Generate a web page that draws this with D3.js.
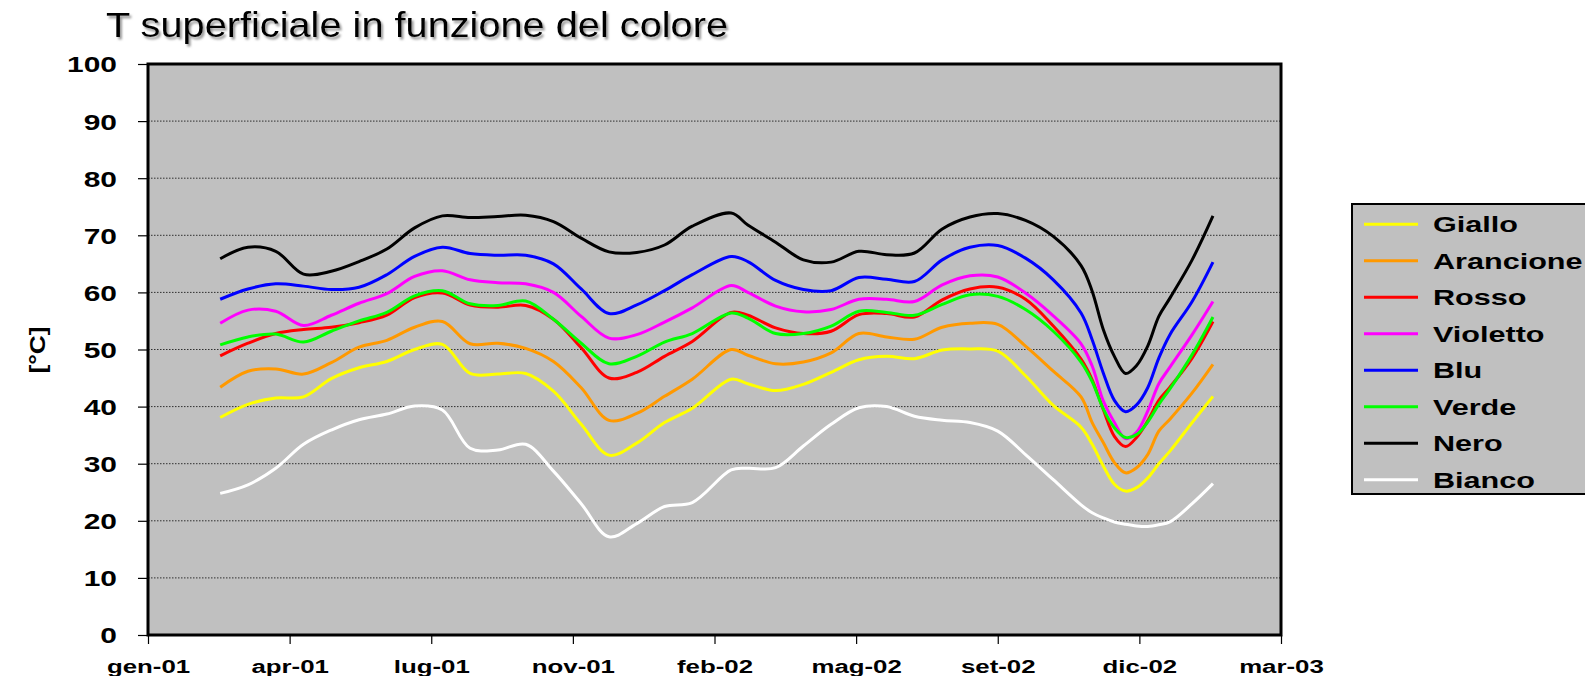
<!DOCTYPE html>
<html>
<head>
<meta charset="utf-8">
<script src="https://cdn.jsdelivr.net/npm/d3@7"></script>
<style>
  body { margin: 0; background: #ffffff; overflow: hidden; }
  svg { display: block; }
</style>
</head>
<body>
<svg id="chart" width="1585" height="676"></svg>
<script>
// Sampling dates of the surface-temperature series
const dates = [
  "2001-02-22","2001-03-14","2001-04-03","2001-04-23","2001-05-13","2001-06-02","2001-06-22","2001-07-12",
  "2001-08-01","2001-08-21","2001-09-10","2001-09-30","2001-10-20","2001-11-09","2001-11-29","2001-12-19",
  "2002-01-08","2002-01-28","2002-02-25","2002-03-09","2002-03-29","2002-04-18","2002-05-08","2002-05-28",
  "2002-06-17","2002-07-07","2002-07-27","2002-08-16","2002-09-05","2002-09-25","2002-10-15","2002-11-04",
  "2002-11-12","2002-11-20","2002-11-28","2002-12-06","2002-12-14","2002-12-22","2002-12-30","2003-01-07",
  "2003-01-23","2003-02-07"
];

// Surface temperature [°C] for each colour
const giallo = [38.1, 40.4, 41.5, 41.7, 44.9, 46.8, 47.9, 50.0, 50.9, 45.8, 45.7, 45.8, 42.7, 36.9, 31.5, 33.6,
  37.2, 39.7, 44.8, 44.0, 42.8, 43.9, 46.0, 48.2, 48.8, 48.4, 49.9, 50.1, 49.7, 45.4, 40.2, 36.4,
  33.4, 29.6, 26.4, 25.2, 25.8, 27.5, 30.0, 32.2, 37.2, 41.8];
const arancione = [43.4, 46.2, 46.6, 45.7, 47.7, 50.4, 51.6, 53.9, 54.9, 51.0, 51.1, 50.2, 47.9, 43.3, 37.6, 38.8,
  41.8, 44.8, 50.0, 49.0, 47.5, 47.8, 49.4, 52.8, 52.2, 51.8, 53.9, 54.6, 54.4, 50.6, 46.2, 41.7,
  37.2, 33.7, 30.2, 28.4, 29.3, 31.6, 35.7, 37.8, 42.4, 47.4];
const rosso = [48.9, 51.1, 52.8, 53.5, 53.9, 54.7, 56.0, 59.1, 59.9, 57.8, 57.4, 57.7, 55.3, 50.3, 45.0, 46.0,
  48.8, 51.4, 56.5, 56.0, 53.8, 52.8, 53.2, 56.1, 56.3, 55.7, 58.7, 60.6, 60.9, 58.8, 54.1, 48.3,
  44.7, 39.5, 34.8, 33.0, 34.6, 37.5, 41.1, 43.4, 48.5, 54.9];
const violetto = [54.6, 56.9, 56.7, 54.2, 56.0, 58.1, 59.8, 62.8, 63.8, 62.2, 61.7, 61.5, 60.0, 55.8, 52.0, 52.6,
  54.8, 57.3, 61.2, 60.0, 57.6, 56.6, 57.0, 58.8, 58.8, 58.4, 61.3, 62.9, 62.7, 59.9, 55.9, 51.0,
  47.1, 41.0, 37.2, 34.4, 35.5, 39.2, 44.0, 46.9, 52.6, 58.4];
const blu = [58.8, 60.6, 61.5, 61.1, 60.5, 60.9, 63.1, 66.3, 67.9, 66.8, 66.5, 66.5, 65.0, 60.6, 56.3, 57.8,
  60.3, 63.1, 66.3, 65.4, 62.1, 60.5, 60.3, 62.6, 62.3, 61.9, 65.7, 67.9, 68.2, 66.0, 62.2, 56.4,
  51.7, 45.9, 41.1, 39.1, 40.3, 43.3, 48.5, 52.6, 58.4, 65.3];
const verde = [50.8, 52.2, 52.7, 51.3, 53.2, 55.0, 56.5, 59.4, 60.3, 58.0, 57.7, 58.5, 55.3, 51.1, 47.5, 48.8,
  51.3, 52.8, 56.4, 55.5, 52.8, 52.8, 54.1, 56.7, 56.5, 56.0, 57.9, 59.6, 59.3, 57.0, 53.2, 47.8,
  44.4, 39.6, 36.3, 34.6, 35.1, 37.3, 40.4, 43.1, 49.1, 55.7];
const nero = [65.9, 67.9, 67.2, 63.2, 63.7, 65.4, 67.6, 71.3, 73.4, 73.1, 73.3, 73.5, 72.4, 69.5, 67.1, 67.0,
  68.3, 71.6, 73.9, 71.8, 68.8, 65.7, 65.3, 67.2, 66.6, 66.9, 71.1, 73.2, 73.8, 72.6, 69.8, 64.7,
  60.2, 53.5, 48.8, 45.8, 47.2, 50.6, 55.8, 59.0, 65.7, 73.4];
const bianco = [24.8, 26.3, 29.2, 33.4, 35.9, 37.7, 38.7, 40.1, 39.4, 32.7, 32.4, 33.4, 28.7, 23.0, 17.2, 19.5,
  22.5, 23.2, 28.9, 29.2, 29.3, 33.1, 36.9, 39.8, 40.0, 38.3, 37.6, 37.2, 35.7, 31.6, 27.2, 22.8,
  21.4, 20.5, 19.8, 19.4, 19.1, 19.0, 19.3, 19.8, 23.0, 26.5];

const seriesNames = ["Giallo", "Arancione", "Rosso", "Violetto", "Blu", "Verde", "Nero", "Bianco"];
const seriesValues = [giallo, arancione, rosso, violetto, blu, verde, nero, bianco];
const seriesColors = ["#ffff00", "#ff9900", "#ff0000", "#ff00ff", "#0000ff", "#00ff00", "#000000", "#ffffff"];

// Axis labels
const xTickLabels = ["gen-01", "apr-01", "lug-01", "nov-01", "feb-02", "mag-02", "set-02", "dic-02", "mar-03"];
const yTickValues = [0, 10, 20, 30, 40, 50, 60, 70, 80, 90, 100];
const xStart = "2001-01-01";
const xTickStepDays = 102;

// ---- layout ----
const svg = d3.select("#chart");
const plot = { left: 148, right: 1281, top: 64, bottom: 635 };
const textStretch = 1.36;   // the chart text is drawn horizontally widened
const font = "'Liberation Sans', Arial, sans-serif";

const parse = d3.utcParse("%Y-%m-%d");
const t0 = parse(xStart);
const tickDates = xTickLabels.map((_, i) => d3.utcDay.offset(t0, i * xTickStepDays));

const x = d3.scaleUtc()
  .domain([tickDates[0], tickDates[tickDates.length - 1]])
  .range([plot.left, plot.right]);
const y = d3.scaleLinear().domain([0, 100]).range([plot.bottom, plot.top]);

// title with soft shadow
const defs = svg.append("defs");
const shadow = defs.append("filter").attr("id", "titleShadow")
  .attr("x", "-5%").attr("y", "-30%").attr("width", "110%").attr("height", "160%");
shadow.append("feDropShadow")
  .attr("dx", 2).attr("dy", 2.5).attr("stdDeviation", 1.3)
  .attr("flood-color", "#777").attr("flood-opacity", 0.75);

svg.append("text")
  .attr("x", 106).attr("y", 37)
  .attr("font-family", font).attr("font-size", 35)
  .attr("textLength", 622).attr("lengthAdjust", "spacingAndGlyphs")
  .attr("fill", "#000").attr("filter", "url(#titleShadow)")
  .text("T superficiale in funzione del colore");

// plot background
svg.append("rect")
  .attr("x", plot.left).attr("y", plot.top)
  .attr("width", plot.right - plot.left).attr("height", plot.bottom - plot.top)
  .attr("fill", "#c0c0c0");

// horizontal gridlines
svg.append("g").selectAll("line")
  .data(yTickValues.filter(v => v > 0 && v < 100))
  .join("line")
  .attr("x1", plot.left).attr("x2", plot.right)
  .attr("y1", d => y(d)).attr("y2", d => y(d))
  .attr("stroke", "#303030").attr("stroke-width", 1)
  .attr("stroke-dasharray", "1.5,1.5");

// series lines
const pts = dates.map(parse);
const line = d3.line()
  .x(d => x(d.date))
  .y(d => y(d.v))
  .curve(d3.curveCatmullRom.alpha(0.5));

svg.append("g").selectAll("path")
  .data(seriesValues.map((vals, i) => ({
    name: seriesNames[i],
    color: seriesColors[i],
    points: vals.map((v, j) => ({ date: pts[j], v }))
  })))
  .join("path")
  .attr("d", d => line(d.points))
  .attr("fill", "none")
  .attr("stroke", d => d.color)
  .attr("stroke-width", 3)
  .attr("stroke-linejoin", "round")
  .attr("stroke-linecap", "butt");

// frame
svg.append("rect")
  .attr("x", plot.left).attr("y", plot.top)
  .attr("width", plot.right - plot.left).attr("height", plot.bottom - plot.top)
  .attr("fill", "none").attr("stroke", "#000").attr("stroke-width", 3);

// y axis
const yAxis = svg.append("g")
  .attr("transform", `translate(${plot.left},0)`)
  .call(d3.axisLeft(y).tickValues(yTickValues).tickSize(10).tickSizeOuter(0));
yAxis.select(".domain").remove();
yAxis.selectAll(".tick line").attr("stroke", "#000").attr("stroke-width", 1.2);
yAxis.selectAll(".tick text")
  .attr("x", 0).attr("dy", "0.36em")
  .attr("transform", `translate(-31,0) scale(${textStretch},1)`)
  .attr("font-family", font).attr("font-size", 22).attr("font-weight", "bold")
  .attr("fill", "#000");

// x axis
const xAxis = svg.append("g")
  .attr("transform", `translate(0,${plot.bottom})`)
  .call(d3.axisBottom(x).tickValues(tickDates)
    .tickFormat((d, i) => xTickLabels[i]).tickSize(9).tickSizeOuter(0));
xAxis.select(".domain").remove();
xAxis.selectAll(".tick line").attr("stroke", "#000").attr("stroke-width", 1.2);
xAxis.selectAll(".tick text")
  .attr("y", 0).attr("dy", 0)
  .attr("transform", `translate(0,38) scale(${textStretch},1)`)
  .attr("font-family", font).attr("font-size", 19).attr("font-weight", "bold")
  .attr("fill", "#000");

// y axis title
svg.append("text")
  .attr("transform", "translate(45,350) rotate(-90) scale(1.2,1)")
  .attr("text-anchor", "middle")
  .attr("font-family", font).attr("font-size", 22).attr("font-weight", "bold")
  .attr("fill", "#000")
  .text("[°C]");

// legend
const legend = { left: 1352, top: 204, height: 290, rowTop: 224.3, rowStep: 36.5 };
svg.append("rect")
  .attr("x", legend.left).attr("y", legend.top)
  .attr("width", 300).attr("height", legend.height)
  .attr("fill", "#c0c0c0").attr("stroke", "#000").attr("stroke-width", 2);

const rows = svg.append("g").selectAll("g")
  .data(seriesNames.map((n, i) => ({ name: n, color: seriesColors[i], i })))
  .join("g")
  .attr("transform", d => `translate(0,${legend.rowTop + d.i * legend.rowStep})`);
rows.append("line")
  .attr("x1", 1364).attr("x2", 1418).attr("y1", 0).attr("y2", 0)
  .attr("stroke", d => d.color).attr("stroke-width", 3);
rows.append("text")
  .attr("transform", `translate(1433,8) scale(1.39,1)`)
  .attr("font-family", font).attr("font-size", 22).attr("font-weight", "bold")
  .attr("fill", "#000")
  .text(d => d.name);
</script>
</body>
</html>
